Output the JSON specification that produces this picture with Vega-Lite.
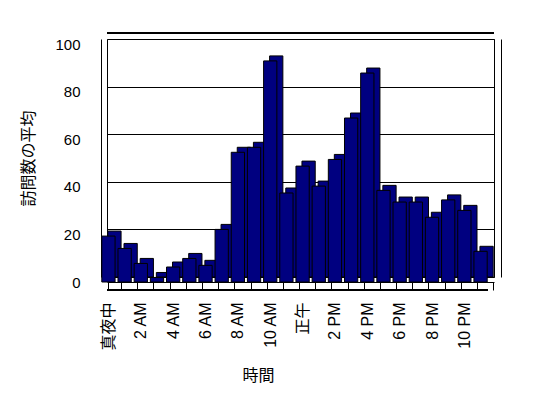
{
  "$schema": "https://vega.github.io/schema/vega-lite/v6.json",
  "width": 387,
  "height": 238,
  "autosize": {"type": "none"},
  "padding": {"left": 107, "top": 39, "right": 54, "bottom": 121},
  "background": "white",
  "config": {
    "view": {"stroke": "black", "strokeWidth": 1},
    "font": "Liberation Sans, Noto Sans CJK JP"
  },
  "data": {
    "values": [
      {"hour": 0, "visits": 19.3},
      {"hour": 1, "visits": 14.1},
      {"hour": 2, "visits": 7.8},
      {"hour": 3, "visits": 1.9},
      {"hour": 4, "visits": 6.3},
      {"hour": 5, "visits": 9.9},
      {"hour": 6, "visits": 7.0},
      {"hour": 7, "visits": 22.1},
      {"hour": 8, "visits": 54.5},
      {"hour": 9, "visits": 56.6},
      {"hour": 10, "visits": 92.9},
      {"hour": 11, "visits": 37.4},
      {"hour": 12, "visits": 48.7},
      {"hour": 13, "visits": 40.3},
      {"hour": 14, "visits": 51.5},
      {"hour": 15, "visits": 68.9},
      {"hour": 16, "visits": 87.8},
      {"hour": 17, "visits": 38.5},
      {"hour": 18, "visits": 33.6},
      {"hour": 19, "visits": 33.6},
      {"hour": 20, "visits": 27.2},
      {"hour": 21, "visits": 34.5},
      {"hour": 22, "visits": 30.1},
      {"hour": 23, "visits": 12.9}
    ]
  },
  "layer": [
    {
      "mark": {"type": "rule", "color": "black", "strokeWidth": 1, "yOffset": -6},
      "encoding": {
        "y": {
          "datum": 100,
          "type": "quantitative",
          "scale": {"domain": [0, 100], "nice": false},
          "axis": {"orient": "right", "offset": 7, "labels": false, "ticks": false, "grid": false, "domain": true, "domainColor": "black", "title": null}
        }
      }
    },
    {
      "mark": {"type": "rule", "color": "black", "strokeWidth": 1, "yOffset": 13, "xOffset": -6, "x2Offset": -6},
      "encoding": {
        "y": {"datum": 0, "type": "quantitative", "axis": null}
      }
    },
    {
      "mark": {"type": "bar", "fill": "#000080", "stroke": "black", "strokeWidth": 1},
      "encoding": {
        "x": {
          "field": "hour",
          "type": "ordinal",
          "scale": {"paddingInner": 0.18, "paddingOuter": 0.05},
          "axis": {
            "orient": "bottom",
            "offset": 5,
            "domain": true,
            "domainColor": "black",
            "ticks": true,
            "tickBand": "extent",
            "tickSize": 8,
            "tickColor": "black",
            "tickOffset": -6,
            "labelOffset": -6,
            "grid": false,
            "labelAngle": -90,
            "labelPadding": 12,
            "labelFontSize": 16,
            "labelColor": "black",
            "labelFont": "Liberation Sans, Noto Sans CJK JP",
            "labelExpr": "!isNumber(datum.value) ? '' : datum.value == 0 ? '真夜中' : datum.value == 12 ? '正午' : datum.value % 2 == 1 ? '' : (datum.value < 12 ? datum.value + ' AM' : (datum.value - 12) + ' PM')",
            "title": "時間",
            "titleFont": "Noto Sans CJK JP",
            "titleFontSize": 16,
            "titleFontWeight": "normal",
            "titleColor": "black",
            "titleX": 151,
            "titleY": 93,
            "titleBaseline": "middle"
          }
        },
        "y": {
          "field": "visits",
          "type": "quantitative",
          "scale": {"domain": [0, 100], "nice": false},
          "axis": {
            "orient": "left",
            "offset": 6,
            "values": [0, 20, 40, 60, 80, 100],
            "domain": true,
            "domainColor": "black",
            "ticks": false,
            "grid": true,
            "gridColor": "black",
            "gridOpacity": 1,
            "labelPadding": 21,
            "labelOffset": 5,
            "labelFontSize": 15,
            "labelFont": "Liberation Sans",
            "labelColor": "black",
            "title": "訪問数の平均",
            "titleFont": "Noto Sans CJK JP",
            "titleFontSize": 16,
            "titleFontWeight": "normal",
            "titleColor": "black",
            "titlePadding": 18
          }
        }
      }
    },
    {
      "mark": {"type": "bar", "fill": "#000080", "stroke": "black", "strokeWidth": 1, "xOffset": -6, "yOffset": 5, "y2Offset": 5},
      "encoding": {
        "x": {"field": "hour", "type": "ordinal"},
        "y": {"field": "visits", "type": "quantitative", "axis": null}
      }
    }
  ],
  "resolve": {"axis": {"y": "independent"}}
}
